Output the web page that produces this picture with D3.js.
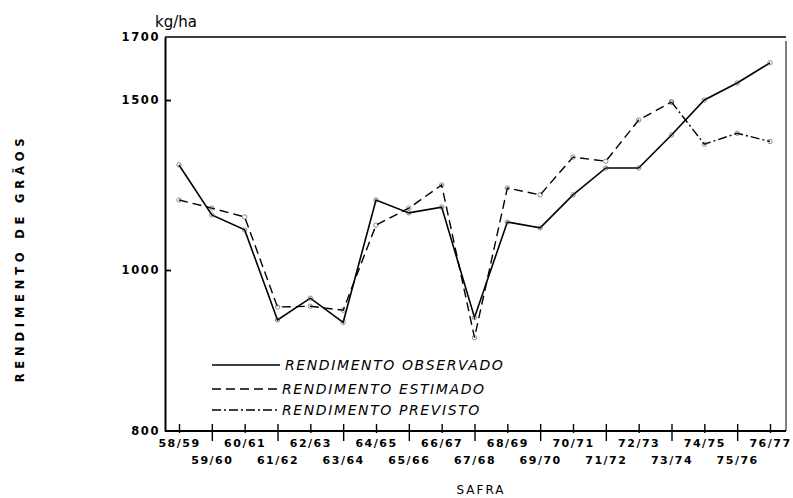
<!DOCTYPE html>
<html>
<head>
<meta charset="utf-8">
<script src="https://cdn.jsdelivr.net/npm/d3@7"></script>
<style>
  html, body { margin: 0; padding: 0; background: #fff; }
  svg { display: block; }
  text { fill: #000; }
</style>
</head>
<body>
<svg id="chart" width="793" height="498"></svg>
<script>
// ---- data ----
const categories = ["58/59","59/60","60/61","61/62","62/63","63/64","64/65","65/66","66/67","67/68",
                    "68/69","69/70","70/71","71/72","72/73","73/74","74/75","75/76","76/77"];
const observed  = [1309,1162,1118,938,965,935,1206,1168,1185,941,1141,1124,1221,1300,1300,1397,1500,1554,1618];
const estimated = [1206,1182,1156,954,955,950,1132,1182,1250,916,1241,1221,1332,1320,1441,1494,null,null,null];
const predicted = [null,null,null,null,null,null,null,null,null,null,null,null,null,null,null,1494,1370,1402,1378];
const yTicks = [800,1000,1500,1700];
const legendLabels = ["RENDIMENTO OBSERVADO","RENDIMENTO ESTIMADO","RENDIMENTO PREVISTO"];

// ---- layout ----
const svg = d3.select("#chart");
const pLeft = 165, pRight = 786, pTop = 37, pBottom = 431;

const x = d3.scalePoint().domain(categories).range([179, 770]);
// broken (piecewise) value axis as in the original figure
const y = d3.scaleLinear().domain([800,1000,1500,1700]).range([pBottom, 270, 100, pTop]);

// frame (top and right)
svg.append("line").attr("x1", pLeft).attr("x2", pRight).attr("y1", pTop).attr("y2", pTop)
  .attr("stroke", "#000").attr("stroke-width", 1.3);
svg.append("line").attr("x1", pRight).attr("x2", pRight).attr("y1", pTop + 4).attr("y2", pBottom)
  .attr("stroke", "#000").attr("stroke-width", 1);

// y axis
const yAxis = d3.axisLeft(y).tickValues(yTicks).tickSizeInner(-6).tickSizeOuter(0).tickPadding(5)
  .tickFormat(d3.format("d"));
const gy = svg.append("g").attr("transform", `translate(${pLeft},0)`).call(yAxis);
gy.select(".domain").attr("stroke", "#000").attr("stroke-width", 2);
gy.selectAll(".tick line").attr("stroke", "#000").attr("stroke-width", 1.8)
  .attr("opacity", d => (d === 800 || d === 1700) ? 0 : 1);
gy.selectAll(".tick text")
  .attr("font-family", "'DejaVu Sans', sans-serif").attr("font-weight", "bold")
  .attr("font-size", "11.5px").attr("letter-spacing", "1.6px");

// x axis
const xAxis = d3.axisBottom(x).tickSizeOuter(0).tickSize(0);
const gx = svg.append("g").attr("transform", `translate(0,${pBottom})`).call(xAxis);
gx.select(".domain").attr("stroke", "#000").attr("stroke-width", 2)
  .attr("d", `M${pLeft},0H${pRight}`);
gx.selectAll(".tick line")
  .attr("stroke", "#000").attr("stroke-width", 1.4)
  .attr("y1", -7)
  .attr("y2", (d, i) => i % 2 ? 10 : 2);
gx.selectAll(".tick text")
  .attr("font-family", "'DejaVu Sans', sans-serif").attr("font-weight", "bold")
  .attr("font-size", "11px").attr("letter-spacing", "1.5px")
  .attr("dy", 0)
  .attr("y", (d, i) => i % 2 ? 33 : 16);

// lines
const lineGen = d3.line().defined(d => d.v != null).x(d => x(d.c)).y(d => y(d.v));
const seriesList = [
  {name: legendLabels[0], values: observed,  dash: null,        width: 1.6},
  {name: legendLabels[1], values: estimated, dash: "9,5",       width: 1.4},
  {name: legendLabels[2], values: predicted, dash: "9,3,2,3",   width: 1.4}
];
seriesList.forEach(s => {
  const pts = categories.map((c, i) => ({c, v: s.values[i]}));
  svg.append("path").datum(pts)
    .attr("fill", "none").attr("stroke", "#000").attr("stroke-width", s.width)
    .attr("stroke-dasharray", s.dash)
    .attr("d", lineGen);
  svg.selectAll(null).data(pts.filter(p => p.v != null)).enter().append("circle")
    .attr("cx", p => x(p.c)).attr("cy", p => y(p.v)).attr("r", 2.2)
    .attr("fill", "none").attr("stroke", "#444").attr("stroke-width", 0.6);
});

// legend
const legRows = [365, 389, 410];
seriesList.forEach((s, i) => {
  svg.append("line").attr("x1", 212).attr("x2", 280).attr("y1", legRows[i]).attr("y2", legRows[i])
    .attr("stroke", "#000").attr("stroke-width", s.width).attr("stroke-dasharray", s.dash);
  svg.append("text").attr("x", i === 0 ? 285 : 282).attr("y", legRows[i] + 5)
    .attr("font-family", "'DejaVu Sans', sans-serif").attr("font-style", "italic")
    .attr("font-size", "14px").attr("letter-spacing", "1.6px")
    .text(s.name);
});

// unit label
svg.append("text").attr("x", 155).attr("y", 27)
  .attr("font-family", "'DejaVu Sans', sans-serif").attr("font-size", "15px")
  .text("kg/ha");

// axis titles
svg.append("text").attr("transform", "translate(24,258) rotate(-90)")
  .attr("text-anchor", "middle")
  .attr("font-family", "'DejaVu Sans', sans-serif").attr("font-weight", "bold")
  .attr("font-size", "11.5px").attr("letter-spacing", "4.8px")
  .text("RENDIMENTO DE GRÃOS");

svg.append("text").attr("x", 481).attr("y", 494)
  .attr("text-anchor", "middle")
  .attr("font-family", "'DejaVu Sans', sans-serif")
  .attr("font-size", "12px").attr("letter-spacing", "2px")
  .text("SAFRA");
</script>
</body>
</html>
